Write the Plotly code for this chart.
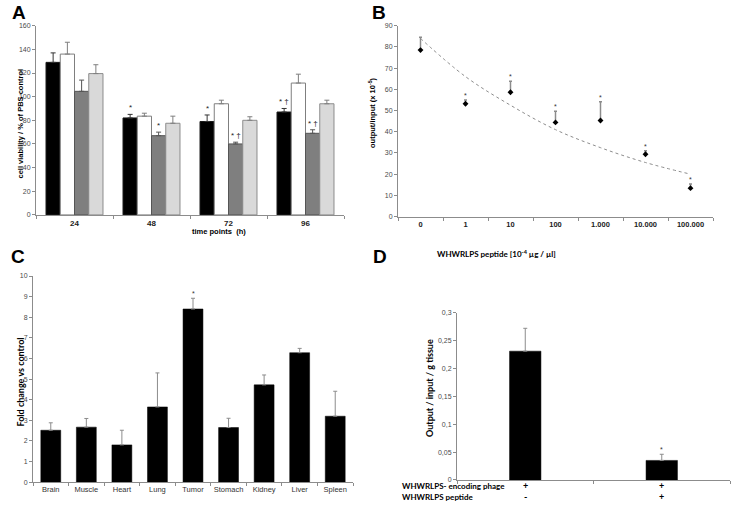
import plotly.graph_objects as go

W, H = 733, 512

# ---------------- Panel A data ----------------
a_categories = ["24", "48", "72", "96"]
a_black = [129, 82, 79, 87]
a_black_err = [8, 3, 5.5, 3]
a_white = [136, 83.5, 94, 111.5]
a_white_err = [10, 2.5, 3, 7.5]
a_dark = [104.5, 67, 60, 69]
a_dark_err = [9.5, 3, 1.5, 3]
a_light = [119.5, 77.5, 80, 94]
a_light_err = [7.5, 6, 3, 3]
a_black_marks = ["", "*", "*", "* †"]
a_white_marks = ["", "", "", ""]
a_dark_marks = ["", "*", "* †", "* †"]
a_light_marks = ["", "", "", ""]
a_yticks = [0, 20, 40, 60, 80, 100, 120, 140, 160]

# ---------------- Panel B data ----------------
b_categories = ["0", "1", "10", "100", "1.000", "10.000", "100.000"]
b_values = [78.5, 53.2, 58.6, 44.4, 45.3, 29.4, 13.4]
b_err = [6, 1.8, 5.2, 5.3, 8.8, 1.7, 2.0]
b_marks = ["", "*", "*", "*", "*", "*", "*"]
b_trend = [84, 66, 52.5, 41, 32.5, 25.5, 20]
b_yticks = [0, 10, 20, 30, 40, 50, 60, 70, 80, 90]

# ---------------- Panel C data ----------------
c_categories = ["Brain", "Muscle", "Heart", "Lung", "Tumor", "Stomach", "Kidney", "Liver", "Spleen"]
c_values = [2.52, 2.67, 1.81, 3.65, 8.4, 2.65, 4.72, 6.28, 3.2]
c_err = [0.36, 0.42, 0.71, 1.65, 0.52, 0.45, 0.48, 0.21, 1.21]
c_marks = ["", "", "", "", "*", "", "", "", ""]
c_yticks = [0, 1, 2, 3, 4, 5, 6, 7, 8, 9, 10]

# ---------------- Panel D data ----------------
d_categories = ["phage", "phage+peptide"]
d_values = [0.231, 0.035]
d_err = [0.041, 0.011]
d_marks = ["", "*"]
d_yticks = [0, 0.05, 0.1, 0.15, 0.2, 0.25, 0.3]
d_yticktext = ["0", "0,05", "0,1", "0,15", "0,2", "0,25", "0,3"]
d_row_labels = ["WHWRLPS- encoding phage", "WHWRLPS peptide"]
d_row_phage = ["+", "+"]
d_row_peptide = ["-", "+"]


def px(x):
    return x / W


def py(y):
    return 1 - y / H


ARIAL = "Liberation Sans"
CAL = "Lato"
TICKC = "#4a4a4a"
AXC = "#8c8c8c"

fig = go.Figure()
annotations = []

# ---------------- Panel A ----------------
a_series = [
    (a_black, a_black_err, a_black_marks, "#000000", "#1a1a1a", "#333333"),
    (a_white, a_white_err, a_white_marks, "#ffffff", "#7f7f7f", "#7f7f7f"),
    (a_dark, a_dark_err, a_dark_marks, "#7f7f7f", "#555555", "#555555"),
    (a_light, a_light_err, a_light_marks, "#d9d9d9", "#8c8c8c", "#7f7f7f"),
]
a_bw = 0.185
for k, (vals, errs, marks, fill, line, ecol) in enumerate(a_series):
    off = -2 * a_bw + k * a_bw
    fig.add_trace(go.Bar(
        x=a_categories, y=vals, width=a_bw, offset=off,
        marker=dict(color=fill, line=dict(color=line, width=1)),
        error_y=dict(type="data", array=errs, arrayminus=[0] * len(errs), symmetric=False,
                     color=ecol, thickness=1, width=2.5),
        xaxis="x", yaxis="y", showlegend=False,
    ))
    for i, m in enumerate(marks):
        if m:
            annotations.append(dict(
                x=i + off + a_bw / 2, y=vals[i] + errs[i], xref="x", yref="y",
                text=m, showarrow=False, yanchor="bottom", yshift=0,
                font=dict(family=ARIAL, size=8, color="#222")))

# ---------------- Panel B ----------------
fig.add_trace(go.Scatter(
    x=b_categories, y=b_trend, mode="lines",
    line=dict(color="#8c8c8c", width=1, dash="dot", shape="spline"),
    xaxis="x2", yaxis="y2", showlegend=False))
fig.add_trace(go.Scatter(
    x=b_categories, y=b_values, mode="markers",
    marker=dict(symbol="diamond", size=4.5, color="#000"),
    error_y=dict(type="data", array=b_err, arrayminus=[0] * len(b_err), symmetric=False,
                 color="#8c8c8c", thickness=1.5, width=1.5),
    xaxis="x2", yaxis="y2", showlegend=False))
for i, m in enumerate(b_marks):
    if m:
        annotations.append(dict(
            x=i, y=b_values[i] + b_err[i], xref="x2", yref="y2",
            text=m, showarrow=False, yanchor="bottom", yshift=-1,
            font=dict(family=ARIAL, size=7, color="#333")))

# ---------------- Panel C ----------------
fig.add_trace(go.Bar(
    x=c_categories, y=c_values, width=0.56,
    marker=dict(color="#000", line=dict(color="#000", width=0.5)),
    error_y=dict(type="data", array=c_err, arrayminus=[0] * len(c_err), symmetric=False,
                 color="#8c8c8c", thickness=1, width=2),
    xaxis="x3", yaxis="y3", showlegend=False))
for i, m in enumerate(c_marks):
    if m:
        annotations.append(dict(
            x=i, y=c_values[i] + c_err[i], xref="x3", yref="y3",
            text=m, showarrow=False, yanchor="bottom", yshift=-1,
            font=dict(family=ARIAL, size=7, color="#333")))

# ---------------- Panel D ----------------
fig.add_trace(go.Bar(
    x=d_categories, y=d_values, width=0.23,
    marker=dict(color="#000", line=dict(color="#000", width=0.5)),
    error_y=dict(type="data", array=d_err, arrayminus=[0] * len(d_err), symmetric=False,
                 color="#8c8c8c", thickness=1, width=2),
    xaxis="x4", yaxis="y4", showlegend=False))
for i, m in enumerate(d_marks):
    if m:
        annotations.append(dict(
            x=i, y=d_values[i] + d_err[i], xref="x4", yref="y4",
            text=m, showarrow=False, yanchor="bottom", yshift=-1,
            font=dict(family=ARIAL, size=7, color="#333")))

# rows under D
row_y = [492, 502.5]
for r, (lab, vals) in enumerate(zip(d_row_labels, [d_row_phage, d_row_peptide])):
    annotations.append(dict(x=px(401), y=py(row_y[r]), xref="paper", yref="paper",
                            text="<b>%s</b>" % lab, showarrow=False, xanchor="left",
                            borderpad=0,
                            font=dict(family=CAL, size=8, color="#000")))
    for i, v in enumerate(vals):
        annotations.append(dict(x=i, y=py(row_y[r]), xref="x4", yref="paper",
                                text="<b>%s</b>" % v, showarrow=False, borderpad=0,
                                font=dict(family=CAL, size=9, color="#000")))

# ---------------- titles and panel letters ----------------
def lbl(x, y, text, size=8, family=ARIAL, angle=0, color="#000", yanchor="middle"):
    annotations.append(dict(x=px(x), y=py(y), xref="paper", yref="paper", text=text,
                            showarrow=False, textangle=angle, yanchor=yanchor,
                            font=dict(family=family, size=size, color=color)))

lbl(10, 0, "<b>A</b>", size=19, yanchor="top")
lbl(379, 0, "<b>B</b>", size=19, yanchor="top")
lbl(9, 244, "<b>C</b>", size=19, yanchor="top")
lbl(380, 244, "<b>D</b>", size=19, yanchor="top")

lbl(13, 124, "<b>cell viability / % of PBS control</b>", size=7.5, angle=-90)
lbl(190, 231, "<b>time points  (h)</b>", size=7.5)
lbl(372, 113, "<b>output/input (x 10<sup>-5</sup>)</b>", size=7.5, angle=-90)
lbl(558, 253, "<b>WHWRLPS peptide [10<sup>-4</sup> µg / µl]</b>", size=8, family=CAL)
lbl(12, 382, "<b>Fold change vs control</b>", size=9, family=CAL, angle=-90)
lbl(429, 388, "<b>Output / input / g tissue</b>", size=9, family=CAL, angle=-90)

common_x = dict(showline=True, linecolor=AXC, linewidth=1, ticks="outside", ticklen=3,
                tickcolor=AXC, showgrid=False, zeroline=False, automargin=False, tickangle=0)
common_y = dict(showline=True, linecolor=AXC, linewidth=1, ticks="outside", ticklen=3,
                tickcolor=AXC, showgrid=False, zeroline=False, automargin=False,
                ticklabeloverflow="allow",
                tickfont=dict(family=ARIAL, size=7, color=TICKC))


def yr(top):
    return [-top * 0.0005, top]


fig.update_layout(
    width=W, height=H, margin=dict(l=0, r=0, t=0, b=0, autoexpand=False),
    paper_bgcolor="white", plot_bgcolor="white",
    barmode="overlay",
    xaxis=dict(domain=[px(36), px(344)], anchor="y", type="category", tickson="boundaries",
               range=[-0.5, 3.5], tickfont=dict(family=ARIAL, size=8, color="#222"),
               tickprefix="<b>", ticksuffix="</b>", **common_x),
    yaxis=dict(domain=[py(215), py(25.7)], anchor="x", range=yr(160), tickvals=a_yticks,
               **common_y),
    xaxis2=dict(domain=[px(398), px(713)], anchor="y2", type="category", tickson="boundaries",
                range=[-0.5, 6.5], tickfont=dict(family=ARIAL, size=7.5, color="#222"),
                tickprefix="<b>", ticksuffix="</b>", **common_x),
    yaxis2=dict(domain=[py(216.7), py(25.7)], anchor="x2", range=yr(90), tickvals=b_yticks,
                **common_y),
    xaxis3=dict(domain=[px(33), px(353)], anchor="y3", type="category", tickson="boundaries",
                range=[-0.5, 8.5], tickfont=dict(family=ARIAL, size=7.5, color="#333"),
                **common_x),
    yaxis3=dict(domain=[py(482.3), py(276)], anchor="x3", range=yr(10), tickvals=c_yticks,
                **common_y),
    xaxis4=dict(domain=[px(457), px(730)], anchor="y4", type="category", tickson="boundaries",
                range=[-0.5, 1.5], showticklabels=False, **common_x),
    yaxis4=dict(domain=[py(480), py(312.7)], anchor="x4", range=yr(0.3), tickvals=d_yticks,
                ticktext=d_yticktext, **common_y),
    annotations=annotations,
)

fig.write_html("out.html", post_script="document.body.style.margin='0';",
               config={"displayModeBar": False})
